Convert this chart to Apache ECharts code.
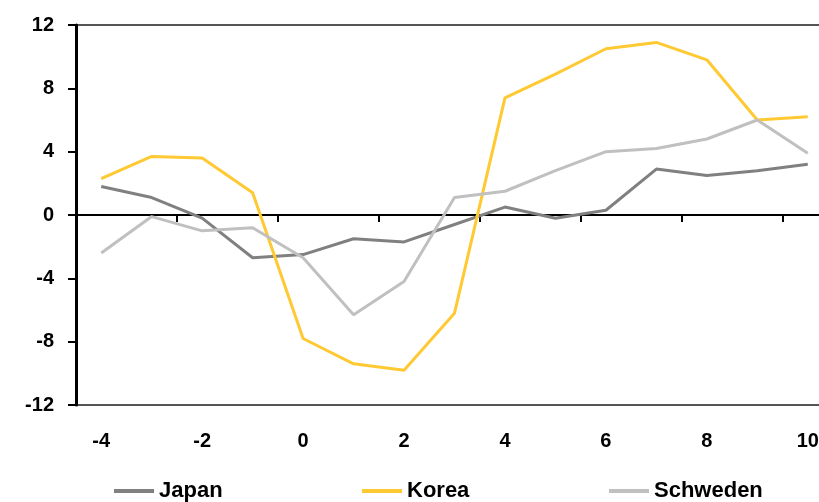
<!DOCTYPE html>
<html>
<head>
<meta charset="utf-8">
<style>
  html, body { margin: 0; padding: 0; background: #fff; overflow: hidden; }
  #chart { width: 840px; height: 502px; }
</style>
<script src="https://cdn.jsdelivr.net/npm/echarts@6/dist/echarts.min.js"></script>
</head>
<body>
<div id="chart"></div>
<script>
// Quarters relative to the reference point
const categories = ['-4', '-3', '-2', '-1', '0', '1', '2', '3', '4', '5', '6', '7', '8', '9', '10'];

const japan    = [1.8, 1.1, -0.2, -2.7, -2.5, -1.5, -1.7, -0.6, 0.5, -0.2, 0.3, 2.9, 2.5, 2.8, 3.2];
const korea    = [2.3, 3.7, 3.6, 1.4, -7.8, -9.4, -9.8, -6.2, 7.4, 8.9, 10.5, 10.9, 9.8, 6.0, 6.2];
const schweden = [-2.4, -0.1, -1.0, -0.8, -2.7, -6.3, -4.2, 1.1, 1.5, 2.8, 4.0, 4.2, 4.8, 6.0, 3.9];

const yTicks = { min: -12, max: 12, interval: 4 };

const colors = { japan: '#808080', korea: '#FFC933', schweden: '#C0C0C0' };
const font = '"Liberation Sans", Arial, sans-serif';

const chart = echarts.init(document.getElementById('chart'), null, { renderer: 'canvas' });

function legendAt(name, left) {
  return {
    data: [name],
    left: left,
    top: 475,
    icon: 'rect',
    itemWidth: 40,
    itemHeight: 4,
    itemGap: 0,
    selectedMode: false,
    textStyle: { fontFamily: font, fontWeight: 'bold', fontSize: 22, color: '#000', padding: [0, 0, 0, 0] }
  };
}

chart.setOption({
  animation: false,
  grid: {
    left: 76, top: 25, width: 757, bottom: 97,
    outerBoundsMode: 'none',
    show: true, borderColor: '#555', borderWidth: 2, backgroundColor: 'transparent'
  },
  legend: [
    legendAt('Japan', 109),
    legendAt('Korea', 357),
    legendAt('Schweden', 604)
  ],
  xAxis: [
    {
      type: 'category',
      data: categories,
      boundaryGap: true,
      position: 'bottom',
      axisLine: { onZero: true, lineStyle: { color: '#000', width: 2 } },
      axisTick: { show: true, interval: 1, length: 7, lineStyle: { color: '#000', width: 2 } },
      axisLabel: { show: false },
      splitLine: { show: false }
    },
    {
      type: 'category',
      data: categories,
      boundaryGap: true,
      position: 'bottom',
      axisLine: { show: false, onZero: false },
      axisTick: { show: false },
      axisLabel: {
        interval: 1, margin: 26,
        fontFamily: font, fontWeight: 'bold', fontSize: 20, color: '#000'
      },
      splitLine: { show: false }
    }
  ],
  yAxis: {
    type: 'value',
    min: yTicks.min, max: yTicks.max, interval: yTicks.interval,
    axisLine: { show: true, onZero: false, lineStyle: { color: '#000', width: 3 } },
    axisTick: { show: true, length: 8, lineStyle: { color: '#000', width: 2 } },
    axisLabel: { margin: 22, fontFamily: font, fontWeight: 'bold', fontSize: 20, color: '#000' },
    splitLine: { show: false }
  },
  series: [
    { name: 'Japan', type: 'line', data: japan, symbol: 'none', color: colors.japan,
      lineStyle: { width: 3, color: colors.japan } },
    { name: 'Korea', type: 'line', data: korea, symbol: 'none', color: colors.korea,
      lineStyle: { width: 3, color: colors.korea } },
    { name: 'Schweden', type: 'line', data: schweden, symbol: 'none', color: colors.schweden,
      lineStyle: { width: 3, color: colors.schweden } }
  ]
});
</script>
</body>
</html>
